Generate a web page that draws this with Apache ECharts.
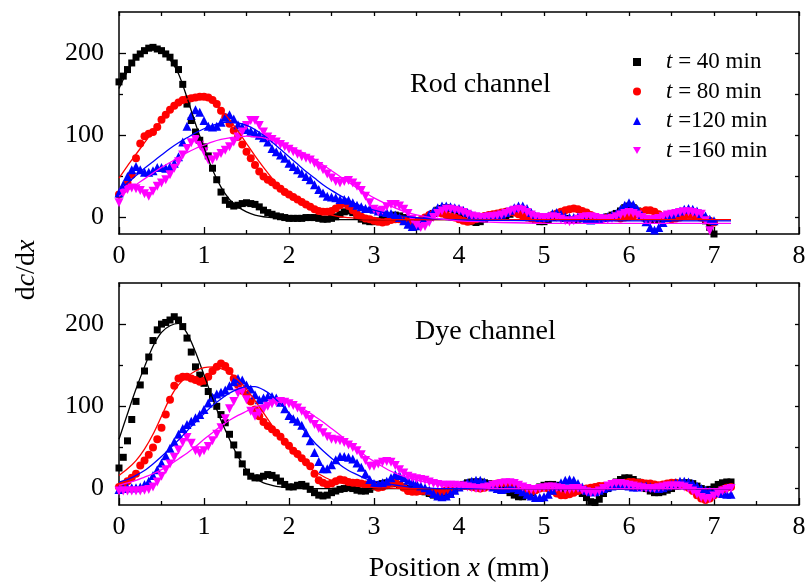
<!DOCTYPE html>
<html>
<head>
<meta charset="utf-8">
<script src="https://cdn.jsdelivr.net/npm/echarts@6/dist/echarts.min.js"></script>
<style>html,body{margin:0;padding:0;background:#fff}#c{width:806px;height:584px}</style>
</head>
<body>
<div id="c"></div>
<script>
// ---------- DATA ----------
const xStep = 0.05; // sampling step of the measured curves (mm)
const seriesNames = ['t = 40 min', 't = 80 min', 't =120 min', 't =160 min'];
const colors = ['#000000', '#ff0000', '#0000ff', '#ff00ff'];
const xTicks = [0, 1, 2, 3, 4, 5, 6, 7, 8];
const yTickLabels = [0, 100, 200];

// Rod channel (top), x = 0 ... 7.0
const rod40 = [
 165,172,180,188,195,199,203,206,207,205,203,199,195,188,180,162,138,118,104,94,
 86,75,60,46,31,21,16,14,15,17,18,17,16,13,9,6,4,2,1,0,
 -1,-1,-1,-1,0,0,0,-1,-2,-2,-1,1,4,7,8,6,2,-2,-4,-5,
 -5,-4,-2,0,2,3,2,0,-3,-6,-8,-7,-4,0,5,9,11,12,11,9,
 5,1,-2,-5,-6,-5,-2,1,2,2,1,2,4,7,9,8,5,1,-3,-5,
 -5,-3,0,2,1,-1,-3,-3,-2,0,1,0,-1,-2,-1,1,3,5,8,12,
 14,12,8,3,-1,-3,-3,-2,0,2,3,4,5,5,4,3,2,0,-4,-12,
 -20];
const rod80 = [
 28,34,42,52,72,90,99,102,104,110,119,125,131,136,140,143,144,145,146,147,
 147,146,143,138,130,122,114,106,98,89,80,72,64,56,50,46,43,39,35,31,
 28,25,22,19,16,13,10,8,7,7,8,11,15,17,14,9,4,1,-1,-2,
 -4,-5,-6,-5,-3,-2,-2,-3,-5,-6,-5,-3,0,3,5,6,5,3,1,0,
 -2,-4,-5,-4,-2,0,2,3,4,5,6,7,7,6,4,2,0,-1,-2,-2,
 -1,1,3,5,7,9,10,11,10,8,6,3,1,-1,-1,0,1,0,-1,0,
 1,2,4,7,9,9,7,4,1,-1,-2,-1,0,2,3,3,2,0,-2,-4,
 -6];
const rod120 = [
 30,40,50,58,62,58,55,55,57,61,61,60,62,66,74,92,111,124,131,128,
 118,111,110,111,116,122,125,120,113,110,107,105,103,100,97,92,84,80,76,72,
 66,62,58,54,50,46,40,34,30,26,25,24,22,22,21,18,15,13,11,11,
 10,8,7,6,5,3,0,-4,-8,-11,-10,-6,-1,4,8,12,14,14,13,12,
 11,9,6,3,1,0,1,2,2,3,4,6,9,12,14,14,11,6,2,0,
 0,2,5,6,4,1,0,0,1,0,-2,-3,-2,-1,0,1,3,5,10,15,
 18,16,10,3,-5,-12,-15,-12,-6,0,4,6,8,10,11,10,8,5,2,-2,
 -4];
const rod160 = [
 18,30,34,36,35,33,29,26,32,38,42,46,52,60,68,76,84,91,95,88,
 80,70,70,74,78,82,86,92,98,104,112,118,118,112,104,98,95,92,89,86,
 83,80,77,74,72,70,66,62,58,53,48,44,42,44,45,42,38,33,26,18,
 10,7,9,13,16,16,14,10,5,-2,-9,-12,-11,-6,0,5,8,10,10,9,
 8,6,4,2,1,0,0,1,1,2,3,5,7,9,10,9,6,3,1,0,
 -1,0,1,0,-2,-4,-5,-4,-2,0,1,1,0,-1,-2,-2,-1,1,3,5,
 6,5,3,0,-2,-3,-2,-1,1,3,4,5,6,7,7,6,5,4,-4,-16,
 null];

// Dye channel (bottom), x = 0 ... 7.2
const dye40 = [
 25,38,58,84,106,126,143,160,180,193,200,202,205,209,205,197,183,166,148,138,
 128,118,110,100,90,80,66,53,41,30,20,15,13,13,15,17,16,13,9,5,
 2,2,4,5,3,-1,-5,-8,-9,-8,-5,-3,-1,0,1,0,-2,-3,-3,-1,
 2,5,6,7,7,6,4,2,0,-1,-2,-3,-4,-6,-8,-9,-9,-8,-5,-1,
 2,5,7,8,8,8,7,6,5,3,1,-2,-5,-8,-10,-10,-8,-5,-1,2,
 4,5,5,4,1,-1,-2,-2,-3,-6,-11,-16,-17,-13,-6,0,4,8,11,13,
 13,11,8,4,0,-3,-5,-5,-4,-2,0,3,5,7,7,6,3,0,-2,-1,
 2,5,7,8,8];
const dye80 = [
 2,5,9,13,18,28,34,41,50,60,74,90,108,125,134,136,136,134,132,130,
 131,136,143,148,152,149,143,134,126,119,114,106,96,88,81,76,72,68,63,57,
 52,46,42,37,32,27,18,10,7,5,6,9,11,10,8,7,7,6,5,4,
 3,1,2,4,6,7,5,1,-3,-4,-4,-3,-3,-4,-5,-5,-4,-2,0,1,
 2,3,3,2,1,0,1,3,5,6,7,6,4,1,-2,-4,-5,-4,-2,0,
 1,0,-3,-6,-8,-8,-7,-5,-3,-1,0,1,2,3,3,3,4,5,6,7,
 8,8,7,7,6,6,5,4,5,6,7,7,6,4,1,-3,-8,-12,-14,-12,
 -8,-4,-1,1,2];
const dye120 = [
 -1,0,1,1,1,2,5,9,16,23,31,40,49,57,66,73,78,82,86,90,
 96,104,111,115,117,120,125,130,134,132,126,121,114,108,110,112,112,110,105,97,
 89,85,82,77,68,58,44,33,24,24,29,35,39,39,38,36,31,26,18,11,
 6,5,7,9,13,17,16,13,10,8,6,3,1,-2,-6,-9,-10,-9,-6,-2,
 2,5,7,9,10,10,8,5,2,0,-1,0,1,1,-1,-4,-7,-9,-11,-11,
 -10,-7,-2,3,7,10,11,10,6,2,-2,-4,-4,-2,0,2,3,4,4,4,
 3,2,2,3,3,2,1,0,1,3,5,7,9,9,8,6,3,0,-2,-3,
 -4,-5,-6,-7,-7];
const dye160 = [
 -3,-3,-3,-3,-3,-3,-2,-1,2,8,15,23,30,38,47,56,62,55,46,43,
 46,51,58,66,74,85,97,106,116,118,108,94,88,92,96,100,103,105,106,105,
 103,101,98,94,89,84,78,73,68,63,60,59,58,56,53,50,46,41,34,27,
 27,30,32,33,32,28,23,19,15,13,12,11,10,8,6,5,4,4,4,4,
 3,3,2,1,0,0,1,2,4,5,6,7,7,6,4,2,0,-1,-1,0,
 1,2,2,1,0,-1,-1,0,0,-2,-4,-5,-5,-3,0,3,5,6,6,5,
 4,3,2,1,0,0,0,1,2,3,3,3,3,2,0,-3,-7,-11,-13,-12,
 -9,-6,-3,-1,0];

// Fitted curves
const fitX = [0,0.1,0.2,0.3,0.4,0.5,0.6,0.7,0.8,0.9,1.0,1.1,1.2,1.3,1.4,1.5,1.6,1.7,1.8,1.9,2.0,
 2.1,2.2,2.3,2.4,2.5,2.6,2.7,2.8,2.9,3.0, 3.2,3.4,3.6,3.8,4.0, 4.5,5.0,5.5,6.0,6.5,7.0,7.2];
const rodFit40 = [157,178,194,204,207,203,192,175,146,114,85,58,37,22,13,7,3,1,0,-1,-2,
 -2.5,-2.5,-2.5,-2.5,-2.5,-2.5,-2.5,-2.5,-2.5,-2.5, -2.5,-2.5,-2.5,-2.5,-2.5, -2.5,-2.5,-2.5,-2.5,-2.5,-2.5,-2.5];
const rodFit80 = [48,63,77,91,105,118,129,138,144,146,145,140,131,119,105,90,75,61,48,37,28,
 20,14,9,5,3,1,0,-1,-2,-2, -2.5,-2.5,-2.5,-2.5,-2.5, -2.5,-2.5,-2.5,-2.5,-2.5,-2.5,-2.5];
const rodFit120 = [34,42,51,60,68,76,84,91,97,103,108,112,115,116,115,112,107,100,92,83,74,
 65,56,48,40,33,27,21,16,12,9, 4,1,-1,-2,-3, -3.5,-4,-4,-4,-4,-4,-4];
const rodFit160 = [26,33,40,47,54,61,67,73,79,84,88,92,95,97,98,99,98,97,94,91,87,
 82,77,71,64,57,50,43,36,30,24, 14,6,1,-2,-4, -6,-7,-7,-7,-7,-7,-7];
const dyeFit40 = [60,91,121,148,173,190,198,201,189,166,138,110,83,60,39,23,13,7,4,2,1,
 0,0,0,0,0,0,0,0,0,0, 0,0,0,0,0, 0,0,0,0,0,0,0];
const dyeFit80 = [16,24,34,48,66,88,110,126,136,143,147,148,146,141,132,121,107,92,77,62,49,
 38,29,21,15,10,7,5,3,2,1, 0.5,0,0,0,0, 0,0,0,0,0,0,0];
const dyeFit120 = [8,11,16,22,30,39,49,59,70,81,91,101,109,116,121,124,124,120,113,103,92,
 80,68,56,46,37,29,22,17,12,9, 5,2,1,0,0, 0,0,0,0,0,0,0];
const dyeFit160 = [4,7,10,14,18,23,29,36,43,51,60,68,76,83,89,94,99,102,104,105,104,
 100,95,88,81,73,65,56,48,40,33, 21,13,8,4,2, 0,0,0,0,0,0,0];

// ---------- CHART ----------
const FONT = '"Liberation Serif", "Times New Roman", serif';
const symbols = ['rect', 'circle', 'triangle', 'path://M0,0L10,0L5,9Z'];
const sizes = [7, 8, 9, 9];

const toPairs = vals => vals.map((v, i) => [Math.round(i * xStep * 100) / 100, v]);
const fitPairs = vals => vals.map((v, i) => [fitX[i], v]);

const grids = [
  {left: 119, top: 12, width: 680, height: 222},
  {left: 119, top: 283, width: 680, height: 222}
];

const xAxes = [], yAxes = [];
grids.forEach((g, gi) => {
  xAxes.push({
    type: 'value', gridIndex: gi, min: 0, max: 8, interval: 1, position: 'bottom',
    axisLine: {show: true, onZero: false, lineStyle: {color: '#000', width: 1.5}},
    axisTick: {show: true, inside: true, length: 7, lineStyle: {color: '#000', width: 1.3}},
    minorTick: {show: true, splitNumber: 2, length: 4, lineStyle: {color: '#000', width: 1.3}},
    splitLine: {show: false}, minorSplitLine: {show: false},
    axisLabel: {show: true, margin: 9, color: '#000', fontFamily: FONT, fontSize: 26,
                showMinLabel: true, showMaxLabel: true, hideOverlap: false},
    name: gi === 1 ? 'Position {i|x} (mm)' : '',
    nameLocation: 'middle', nameGap: 50,
    nameTextStyle: {color: '#000', fontFamily: FONT, fontSize: 28,
      rich: {i: {fontStyle: 'italic', fontFamily: FONT, fontSize: 28, color: '#000'}}}
  });
  xAxes.push({
    type: 'value', gridIndex: gi, min: 0, max: 8, interval: 0.5, position: 'top',
    axisLine: {show: true, onZero: false, lineStyle: {color: '#000', width: 1.5}},
    axisTick: {show: true, inside: true, length: 4, lineStyle: {color: '#000', width: 1.3}},
    splitLine: {show: false}, axisLabel: {show: false}
  });
  yAxes.push({
    type: 'value', gridIndex: gi, min: -20, max: 250, position: 'left',
    axisLine: {show: true, onZero: false, lineStyle: {color: '#000', width: 1.5}},
    axisTick: {show: true, inside: true, length: 7, customValues: yTickLabels, lineStyle: {color: '#000', width: 1.3}},
    splitLine: {show: false},
    axisLabel: {show: true, margin: 15, color: '#000', fontFamily: FONT, fontSize: 26, customValues: yTickLabels}
  });
  yAxes.push({
    type: 'value', gridIndex: gi, min: -20, max: 250, position: 'right',
    axisLine: {show: true, onZero: false, lineStyle: {color: '#000', width: 1.5}},
    axisTick: {show: true, inside: true, length: 4, customValues: [0, 50, 100, 150, 200], lineStyle: {color: '#000', width: 1.3}},
    splitLine: {show: false}, axisLabel: {show: false}
  });
  yAxes.push({
    type: 'value', gridIndex: gi, min: -20, max: 250, position: 'left',
    axisLine: {show: false},
    axisTick: {show: true, inside: true, length: 4, customValues: [50, 150], lineStyle: {color: '#000', width: 1.3}},
    splitLine: {show: false}, axisLabel: {show: false}
  });
});

const series = [];
const panels = [
  {x: 0, y: 0, data: [rod40, rod80, rod120, rod160], fits: [rodFit40, rodFit80, rodFit120, rodFit160]},
  {x: 2, y: 3, data: [dye40, dye80, dye120, dye160], fits: [dyeFit40, dyeFit80, dyeFit120, dyeFit160]}
];
panels.forEach((p, pi) => {
  p.data.forEach((d, k) => {
    series.push({
      type: 'scatter', name: seriesNames[k], xAxisIndex: p.x, yAxisIndex: p.y,
      data: toPairs(d), symbol: symbols[k], symbolSize: sizes[k],
      itemStyle: {color: colors[k], opacity: 1}, z: 2 + k * 0.1, silent: true
    });
  });
  p.fits.forEach((f, k) => {
    series.push({
      type: 'line', name: 'fit' + pi + '_' + k, xAxisIndex: p.x, yAxisIndex: p.y,
      data: fitPairs(f), smooth: 0.3, showSymbol: false, symbol: 'none',
      lineStyle: {color: colors[k], width: 1.3}, z: 4, silent: true
    });
  });
});

const chart = echarts.init(document.getElementById('c'), null, {renderer: 'canvas'});
chart.setOption({
  animation: false,
  backgroundColor: '#fff',
  grid: grids.map(g => Object.assign({containLabel: false, outerBoundsMode: 'none'}, g)),
  xAxis: xAxes,
  yAxis: yAxes,
  legend: {
    data: seriesNames, orient: 'vertical', left: 628, top: 45,
    itemWidth: 8, itemHeight: 8, itemGap: 5.5,
    selectedMode: false,
    formatter: n => '{i|t}' + n.slice(1),
    textStyle: {color: '#000', fontFamily: FONT, fontSize: 23, lineHeight: 24, padding: [0, 0, 0, 20],
      rich: {i: {fontStyle: 'italic', fontFamily: FONT, fontSize: 23, color: '#000'}}}
  },
  graphic: [
    {type: 'text', left: 410, top: 71, style: {text: 'Rod channel', fill: '#000', font: '28px "Liberation Serif"'}},
    {type: 'text', left: 415, top: 318, style: {text: 'Dye channel', fill: '#000', font: '28px "Liberation Serif"'}},
    {type: 'text', x: 27, y: 270, rotation: Math.PI / 2,
     style: {text: 'd{i|c}/d{i|x}', fill: '#000', fontFamily: FONT, fontSize: 28, align: 'center', verticalAlign: 'middle',
       rich: {i: {fontStyle: 'italic', fontFamily: FONT, fontSize: 28, fill: '#000'}}}}
  ],
  series: series
});
</script>
</body>
</html>
